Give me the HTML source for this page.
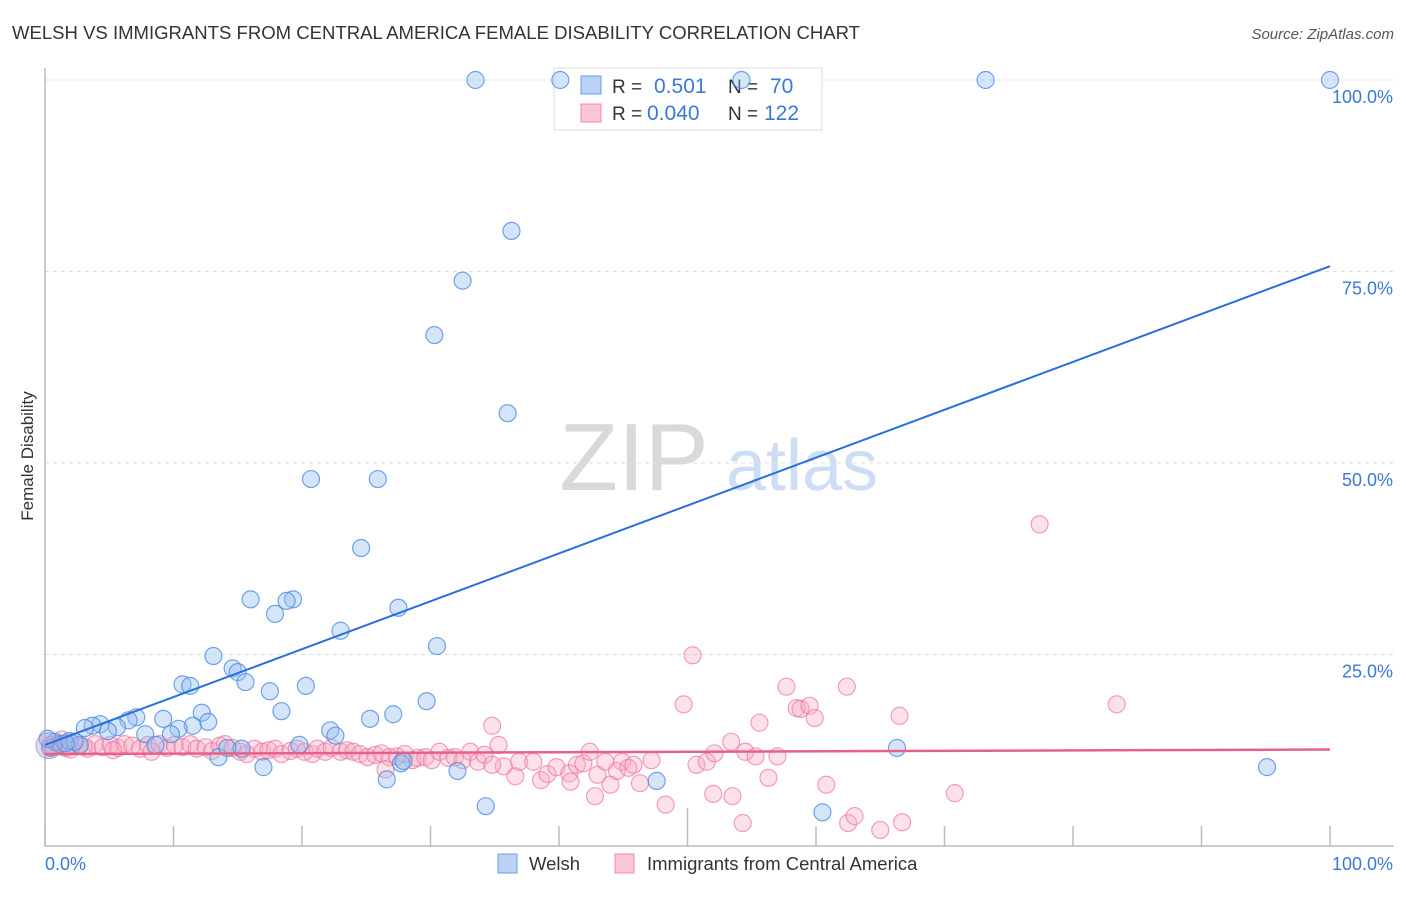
<!DOCTYPE html>
<html><head><meta charset="utf-8"><style>
body{margin:0;background:#fff;font-family:"Liberation Sans",sans-serif;}
svg text{font-family:"Liberation Sans",sans-serif;}
</style></head><body>
<svg id="chart" width="1406" height="892" xmlns="http://www.w3.org/2000/svg">
<text x="12" y="39" font-size="18.5" fill="#333" textLength="848" lengthAdjust="spacingAndGlyphs">WELSH VS IMMIGRANTS FROM CENTRAL AMERICA FEMALE DISABILITY CORRELATION CHART</text>
<text x="1394" y="39" font-size="15" fill="#555" text-anchor="end" font-style="italic">Source: ZipAtlas.com</text>
<text transform="translate(33,456) rotate(-90)" font-size="17" fill="#333" text-anchor="middle">Female Disability</text>
<g>
<text x="634" y="490" font-size="96" fill="#d0d0d0" text-anchor="middle" font-family="Liberation Serif" opacity="0.8">ZIP</text>
<text x="802" y="490" font-size="72" fill="#c0d5f2" text-anchor="middle" opacity="0.8">atlas</text>
</g>
<g id="grid"></g>
<g id="axes"></g>
<g>
<rect x="554" y="68" width="268" height="62" fill="#fff" stroke="#ddd"/>
<rect x="581" y="76" width="20" height="18" fill="#b9d2f5" stroke="#6a9ee6"/>
<text x="612" y="93" font-size="19" fill="#333">R =</text>
<text x="654" y="93" font-size="21" fill="#3a78d8">0.501</text>
<text x="728" y="93" font-size="19" fill="#333">N =</text>
<text x="770" y="93" font-size="21" fill="#3a78d8">70</text>
<rect x="581" y="104" width="20" height="18" fill="#f9c6d6" stroke="#f08aab"/>
<text x="612" y="120" font-size="19" fill="#333">R =</text>
<text x="647" y="120" font-size="21" fill="#3a78d8">0.040</text>
<text x="728" y="120" font-size="19" fill="#333">N =</text>
<text x="764" y="120" font-size="21" fill="#3a78d8">122</text>
</g>
<g id="pts"></g>
<g id="lines"></g>
<g>
<rect x="498" y="854" width="19" height="19" fill="#b9d2f5" stroke="#6a9ee6"/>
<text x="529" y="870" font-size="18.5" fill="#333">Welsh</text>
<rect x="615" y="854" width="19" height="19" fill="#f9c6d6" stroke="#f08aab"/>
<text x="647" y="870" font-size="18.5" fill="#333">Immigrants from Central America</text>
</g>
</svg>
<script>
const blueX=[33.5,40.1,54.2,73.2,100,36.3,32.5,30.3,36.0,20.7,25.9,24.6,16.0,19.3,18.8,17.9,27.5,23.0,30.5,13.1,14.6,15.0,15.6,10.7,11.3,17.5,20.3,29.7,18.4,12.2,12.7,7.1,9.2,6.5,4.3,3.7,3.1,5.6,4.9,11.5,10.4,9.8,7.8,22.2,22.6,25.3,27.1,19.8,13.5,17.0,26.6,32.1,27.7,34.3,47.6,60.5,66.3,95.1,0.4,0.8,1.2,1.9,2.7,0.2,2.3,1.6,15.3,8.6,14.2,27.9];
const blueY=[100,100,100,100,100,80.3,73.8,66.7,56.5,47.9,47.9,38.9,32.2,32.2,32.0,30.3,31.1,28.1,26.1,24.8,23.2,22.7,21.4,21.1,20.9,20.2,20.9,18.9,17.6,17.4,16.2,16.8,16.6,16.4,15.9,15.7,15.4,15.5,15.0,15.7,15.3,14.6,14.6,15.1,14.4,16.6,17.2,13.2,11.6,10.3,8.7,9.8,10.8,5.2,8.5,4.4,12.8,10.3,12.8,13.6,13.3,13.7,13.2,14.0,13.6,13.4,12.7,13.2,12.8,11.1];
const pinkX=[0.4,1.0,1.6,2.1,2.7,3.3,3.9,4.5,5.1,5.7,6.2,6.8,7.4,8.0,8.3,8.9,9.5,10.1,10.7,11.3,11.8,12.5,13.0,13.6,14.0,14.6,15.2,15.7,16.3,16.9,17.4,17.9,18.4,19.1,19.6,20.2,20.8,21.2,21.8,22.3,23.0,23.5,24.0,24.5,25.1,25.7,26.2,26.8,27.4,28.0,28.6,29.0,29.6,30.1,30.7,31.4,31.9,32.5,33.1,33.7,34.2,34.8,35.3,35.7,36.6,36.9,38.0,38.6,39.1,39.8,40.8,40.9,41.4,41.9,42.8,42.4,43.0,43.6,44.0,44.9,44.5,45.4,45.8,46.3,47.2,48.3,49.7,50.7,51.5,52.0,52.1,53.4,53.5,54.5,54.3,55.3,55.6,56.3,57.0,57.7,58.5,58.8,59.5,59.9,62.4,62.5,66.5,60.8,63.0,65.0,66.7,70.8,77.4,83.4,50.4,34.8,1.3,2.0,0.6,5.3,3.0,26.5];
const pinkY=[13.2,13.3,12.8,13.3,13.1,12.7,13.3,12.9,13.2,12.8,13.3,13.1,12.7,13.2,12.3,13.3,12.8,13.2,12.9,13.3,12.7,12.9,12.4,13.1,13.3,12.8,12.3,12.0,12.7,12.3,12.5,12.7,12.0,12.4,12.7,12.3,12.0,12.7,12.3,12.8,12.3,12.5,12.3,12.0,11.6,11.9,12.1,11.6,11.7,12.0,11.2,11.5,11.6,11.2,12.3,11.5,11.6,11.2,12.3,11.0,11.9,15.7,13.2,10.4,9.1,11.0,11.0,8.6,9.4,10.3,9.5,8.4,10.6,10.8,6.5,12.3,9.3,11.0,8.0,11.0,9.8,10.2,10.6,8.2,11.2,5.4,18.5,10.6,11.0,6.8,12.1,13.6,6.5,12.3,3.0,11.7,16.1,8.9,11.7,20.8,18.0,17.9,18.3,16.7,20.8,3.0,17.0,8.0,3.9,2.1,3.1,6.9,42.0,18.5,24.9,10.6,13.9,12.6,12.9,12.5,13.0,10.0];
const yTicks=[25,50,75,100];
const xTicks=[0,10,20,30,40,50,60,70,80,90,100];
const blueFit=[13.2,75.7];
const pinkFit=[12.0,12.6];
const X=v=>45+v*12.85, Y=v=>846-v*7.66;
const NS="http://www.w3.org/2000/svg";
function mk(tag,attrs,parent){const e=document.createElementNS(NS,tag);for(const k in attrs)e.setAttribute(k,attrs[k]);parent.appendChild(e);return e;}
const grid=document.getElementById('grid'),axes=document.getElementById('axes'),pts=document.getElementById('pts'),lines=document.getElementById('lines');
yTicks.forEach(t=>{
 const l=mk('line',{x1:45,x2:1394,y1:Y(t),y2:Y(t),stroke:'#ddd','stroke-dasharray':'4,4'},grid);
 
 
 const tx=mk('text',{x:1393,y:Y(t)+23,'font-size':18,fill:'#3a78d8','text-anchor':'end'},axes);
 tx.textContent=t.toFixed(1)+'%';
 
 
});
const ya=mk('line',{x1:45,x2:45,y1:68,y2:846,stroke:'#bbb','stroke-width':1.5},axes);


const xa=mk('line',{x1:45,x2:1394,y1:846,y2:846,stroke:'#bbb','stroke-width':1.5},axes);


xTicks.forEach(t=>{
 const tk=mk('line',{x1:X(t),x2:X(t),y1:t===50?808:826,y2:846,stroke:'#bbb','stroke-width':1.5},axes);
 
 
});
const xl0=mk('text',{x:45,y:870,'font-size':18,fill:'#3a78d8'},axes);xl0.textContent='0.0%';


const xl1=mk('text',{x:1393,y:870,'font-size':18,fill:'#3a78d8','text-anchor':'end'},axes);xl1.textContent='100.0%';


pinkX.forEach((v,i)=>{
 const c=mk('circle',{cx:X(v),cy:Y(pinkY[i]),r:8.5,fill:'rgba(246,170,196,0.35)',stroke:'rgba(236,120,160,0.7)','stroke-width':1.2},pts);
 
 
});
blueX.forEach((v,i)=>{
 const c=mk('circle',{cx:X(v),cy:Y(blueY[i]),r:8.5,fill:'rgba(150,190,240,0.4)',stroke:'rgba(80,140,225,0.8)','stroke-width':1.2},pts);
 
 
});
const big=mk('circle',{cx:X(0.3),cy:Y(13.1),r:13,fill:'rgba(180,160,210,0.4)',stroke:'rgba(120,130,200,0.6)'},pts);


const bl=mk('line',{x1:X(0),y1:Y(blueFit[0]),x2:X(100),y2:Y(blueFit[1]),stroke:'#2a6fdb','stroke-width':2},lines);


const pl=mk('line',{x1:X(0),y1:Y(pinkFit[0]),x2:X(100),y2:Y(pinkFit[1]),stroke:'#e8608a','stroke-width':2.5},lines);


</script>
</body></html>
